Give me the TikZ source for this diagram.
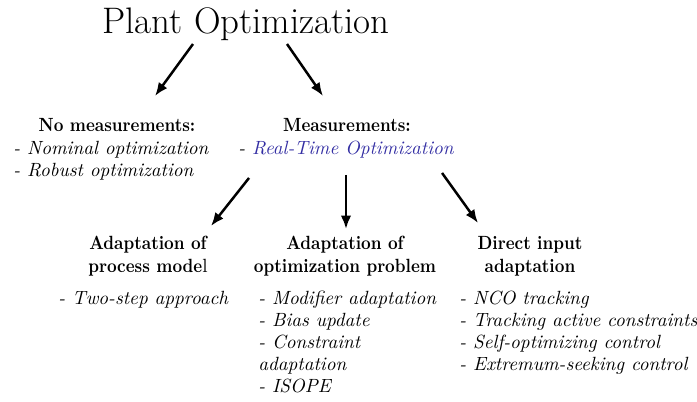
\documentclass[tikz,border=0pt]{standalone}
\usepackage{fontspec}
\newfontfamily\headfont{lmroman10-bold.otf}[FakeStretch=0.88]
\usepackage{tikz}
\usetikzlibrary{arrows.meta, positioning, calc}
\definecolor{rtoblue}{rgb}{0.2,0.18,0.64}

\begin{document}
\begin{tikzpicture}[
  x=0.523pt, y=-0.523pt,
  >={Latex[length=7pt,width=5.5pt]},
  head/.style  = {font=\headfont\fontsize{10}{12}\selectfont, align=center, inner sep=0pt, anchor=north},
  items/.style = {font=\itshape\fontsize{10}{11.5}\selectfont, align=left, inner sep=0pt, anchor=north west},
  arr/.style   = {->, line width=1.3pt},
]
  \useasboundingbox (0,0) rectangle (697,401);

  \node[font=\fontsize{19.3}{23}\selectfont, inner sep=0pt, anchor=base] (plant) at (246,33) {Plant Optimization};

  \node[head]  (nomeas)  at (117,118) {No measurements:};
  \node[items] (nomlist) at (13,141)  {- Nominal optimization\\ - Robust optimization};
  \node[head]  (meas)    at (347,118) {Measurements:};
  \node[items] (rto)     at (238,141) {- \textcolor{rtoblue}{Real-Time Optimization}};

  \node[head]  (model)   at (148,236) {Adaptation of\\ process mode{\normalfont l}};
  \node[items] (twostep) at (58,291)  {- Two-step approach};
  \node[head]  (prob)    at (345,236) {Adaptation of\\ optimization problem};
  \node[items] (problist) at (258,291) {- Modifier adaptation\\ - Bias update\\ - Constraint\\ adaptation\\ - ISOPE};
  \node[head]  (direct)  at (530,236) {Direct input\\ adaptation};
  \node[items] (dirlist) at (459,291) {- NCO tracking\\ - Tracking active constraints\\ - Self-optimizing control\\ - Extremum-seeking control};

  \draw[arr] ($(plant.base)+(-53,11)$) -- ($(nomeas.north)+(38,-22)$);
  \draw[arr] ($(plant.base)+(41,11)$)  -- ($(meas.north)+(-24,-22)$);

  \draw[arr] ($(rto.south)+(-97,19)$) -- ($(model.north)+(63,-10)$);
  \draw[arr] (rto.south -| prob.north) ++(1,16) -- ($(prob.north)+(1,-7)$);
  \draw[arr] ($(rto.south)+(96,14)$)  -- ($(direct.north)+(-52,-13)$);
\end{tikzpicture}
\end{document}
